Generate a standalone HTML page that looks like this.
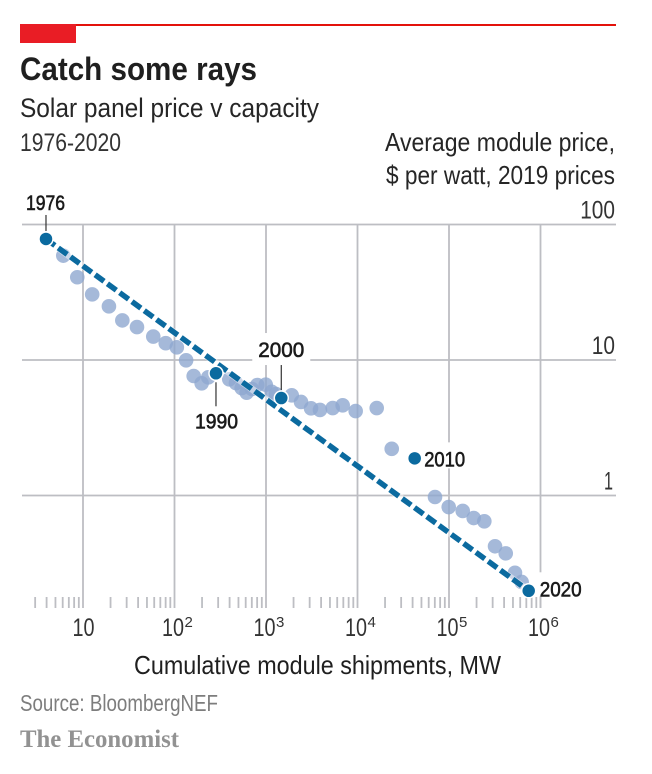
<!DOCTYPE html>
<html lang="en">
<head>
<meta charset="utf-8">
<title>Catch some rays</title>
<style>
html,body{margin:0;padding:0;background:#fff;}
svg{display:block;}
text{font-family:"Liberation Sans",sans-serif;}
</style>
</head>
<body>
<svg id="chart" width="652" height="774" viewBox="0 0 652 774" xmlns="http://www.w3.org/2000/svg">
  <rect x="0" y="0" width="652" height="774" fill="#ffffff"/>
  <rect x="20" y="24" width="596" height="2" fill="#e3120b"/>
  <rect x="20" y="24" width="56" height="19" fill="#e91d25"/>
  <text x="20" y="80" font-size="32" font-weight="700" fill="#1f1f1f" textLength="237" lengthAdjust="spacingAndGlyphs">Catch some rays</text>
  <text x="20" y="117" font-size="27" fill="#262626" textLength="299" lengthAdjust="spacingAndGlyphs">Solar panel price v capacity</text>
  <text x="20" y="151" font-size="25" fill="#333333" textLength="101" lengthAdjust="spacingAndGlyphs">1976-2020</text>
  <text x="615" y="151" text-anchor="end" font-size="26" fill="#262626" textLength="230" lengthAdjust="spacingAndGlyphs">Average module price,</text>
  <text x="615" y="184" text-anchor="end" font-size="26" fill="#262626" textLength="229" lengthAdjust="spacingAndGlyphs">$ per watt, 2019 prices</text>
  <g id="grid"></g>
  <g id="ticks"></g>
  <g id="masks"></g>
  <g id="dots"></g>
  <g id="trend"></g>
  <g id="highlights"></g>
  <g id="labels"></g>
  <text x="134" y="674" font-size="26" fill="#1f1f1f" textLength="367" lengthAdjust="spacingAndGlyphs">Cumulative module shipments, MW</text>
  <text x="20" y="711" font-size="23" fill="#7d7d7d" textLength="198" lengthAdjust="spacingAndGlyphs">Source: BloombergNEF</text>
  <text x="20" y="747" font-size="25" font-weight="700" fill="#929292" style="font-family:'Liberation Serif',serif" textLength="159" lengthAdjust="spacingAndGlyphs">The Economist</text>
</svg>
<script>
const years = [1976,1977,1978,1979,1980,1981,1982,1983,1984,1985,1986,1987,1988,1989,1990,1991,1992,1993,1994,1995,1996,1997,1998,1999,2000,2001,2002,2003,2004,2005,2006,2007,2008,2009,2010,2011,2012,2013,2014,2015,2016,2017,2018,2019,2020];
const shipmentsMW = [3.94,6.09,8.66,12.6,19.2,26.9,38.9,58.6,80.2,106,134,162,198,234,284,397,470,542,615,703,803,993,1153,1285,1469,1910,2415,3105,3890,5358,6887,9550,16218,23660,42170,70310,99300,141250,186200,243200,318400,416900,526000,622300,743000];
const pricePerWatt = [78.2,58.9,40.8,30.5,24.9,19.6,17.5,14.9,13.3,12.4,9.95,7.62,6.73,7.45,7.98,7.20,6.76,6.21,5.74,6.11,6.54,6.57,5.83,5.61,5.24,5.49,4.90,4.40,4.28,4.42,4.63,4.20,4.42,2.21,1.88,0.975,0.822,0.769,0.682,0.645,0.422,0.374,0.269,0.230,0.198];
const highlightYears = [1976,1990,2000,2010,2020];
const trendShipments = [3.94,743000];
const trendPrices = [78.2,0.198];
const yTickValues = [100,10,1];
const yTickLabels = ["100","10","1"];
const xTickValues = [10,100,1000,10000,100000,1000000];
const xTickBases = ["10","10","10","10","10","10"];
const xTickExponents = ["","2","3","4","5","6"];
const minorTickMultipliers = [2,3,4,5,6,7,8,9];

const NS = "http://www.w3.org/2000/svg";
function xScale(v){ return 83 + (Math.log10(v) - 1) * 91.5; }
function yScale(v){ return 495.5 - Math.log10(v) * 135.5; }
function make(tag, parent, props){
  const el = document.createElementNS(NS, tag);
  for (const k in props) el.setAttribute(k, props[k]);
  document.getElementById(parent).appendChild(el);
  return el;
}
const GRID = "#bdbec3";
const DARK = "#0b6a9f";

yTickValues.forEach(function(v, i){
  const line = make("line", "grid", {x1:22, x2:616, y1:yScale(v), y2:yScale(v), stroke:GRID, "stroke-width":1.8});
  
  
  const s = yTickLabels[i];
  const label = make("text", "labels", {x:s === "1" ? 613 : 615, y:yScale(v) - 6, "text-anchor":"end", "font-size":25, fill:"#333333", textLength:s === "1" ? 9 : s.length * 11.6, lengthAdjust:"spacingAndGlyphs"});
  label.textContent = s;
  
  
});

xTickValues.forEach(function(v, i){
  const x = xScale(v);
  const line = make("line", "grid", {x1:x, x2:x, y1:yScale(100), y2:608, stroke:GRID, "stroke-width":1.8});
  
  
  const base = make("text", "labels", {x:x - (xTickExponents[i] ? 12.5 : 10.5), y:636, "font-size":25, fill:"#333333", textLength:22, lengthAdjust:"spacingAndGlyphs"});
  base.textContent = xTickBases[i];
  
  
  if (xTickExponents[i]) {
    const sup = make("text", "labels", {x:x + 10, y:627, "font-size":15, fill:"#333333"});
    sup.textContent = xTickExponents[i];
    
    
  }
  minorTickMultipliers.forEach(function(m){
    const mv = v / 10 * m;
    if (mv < 3) return;
    const t = make("line", "ticks", {x1:xScale(mv), x2:xScale(mv), y1:597, y2:608, stroke:GRID, "stroke-width":1.8});
    
    
  });
});
const firstMinor = make("line", "ticks", {x1:xScale(1000000), x2:xScale(1000000), y1:597, y2:608, stroke:GRID, "stroke-width":1.8});



years.forEach(function(y, i){
  const d = make("circle", "dots", {cx:xScale(shipmentsMW[i]), cy:yScale(pricePerWatt[i]), r:7.3, fill:"#8fa8cf", "fill-opacity":0.8});
  
  
});

const trendHalo = make("line", "trend", {x1:xScale(trendShipments[0]), y1:yScale(trendPrices[0]), x2:xScale(trendShipments[1]), y2:yScale(trendPrices[1]), stroke:"#ffffff", "stroke-opacity":0.45, "stroke-width":7});


const trendLine = make("line", "trend", {x1:xScale(trendShipments[0]), y1:yScale(trendPrices[0]), x2:xScale(trendShipments[1]), y2:yScale(trendPrices[1]), stroke:DARK, "stroke-width":5.5, "stroke-dasharray":"11 4.2"});



const labelDx = [-20,-21,-23,9.5,11];
const labelDy = [-29,55,-41,8,5.5];
const labelW = [39,43,46,41,42];
highlightYears.forEach(function(y, n){
  const i = years.indexOf(y);
  const cx = xScale(shipmentsMW[i]);
  const cy = yScale(pricePerWatt[i]);
  const tx = cx + labelDx[n];
  const ty = cy + labelDy[n];
  if (y === 2000 || y === 2010 || y === 2020) {
    const m = make("rect", "masks", {x:tx - 6, y:ty - 24, width:labelW[n] + 12, height:y === 2010 ? 26 : (y === 2020 ? 24 : 32), fill:"#ffffff"});
    
    
  }
  const dot = make("circle", "highlights", {cx:cx, cy:cy, r:7, fill:DARK, stroke:"#ffffff", "stroke-width":1.5});
  
  
  const label = make("text", "highlights", {x:tx, y:ty, "font-size":21, fill:"#1a1a1a", stroke:"#1a1a1a", "stroke-width":0.6, textLength:labelW[n], lengthAdjust:"spacingAndGlyphs"});
  label.textContent = String(y);
  
  
  if (y === 1976 || y === 1990 || y === 2000) {
    const y1 = y === 1990 ? cy + 9 : cy - 8;
    const y2 = y === 1990 ? cy + 33 : (y === 1976 ? cy - 24 : cy - 33);
    const leader = make("line", "highlights", {x1:cx, x2:cx, y1:y1, y2:y2, stroke:"#333333", "stroke-width":1.2});
    
    
  }
});
</script>
</body>
</html>
